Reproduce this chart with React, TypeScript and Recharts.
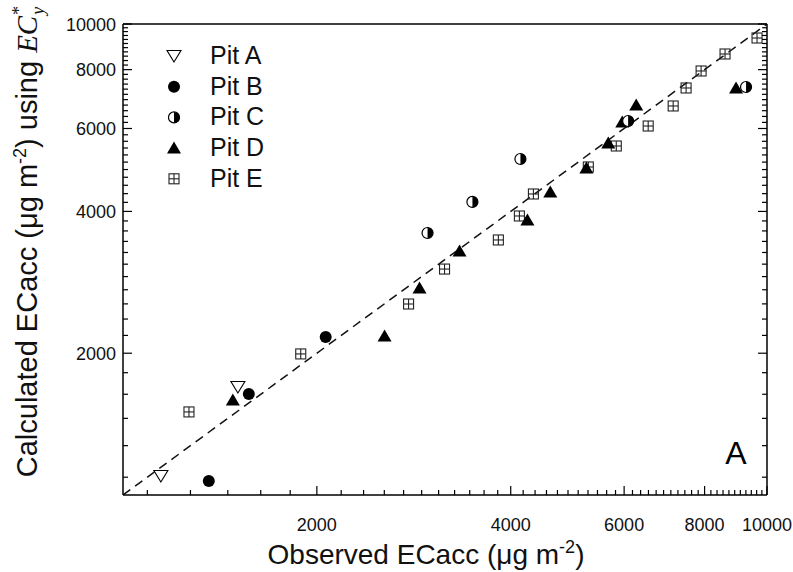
import React from "react";
import { ScatterChart, Scatter, XAxis, YAxis, ReferenceLine, Legend } from "recharts";

// observed (x) vs calculated (y) ECacc, µg m-2
const pitAObserved = [1145, 1508];
const pitACalculated = [1097, 1696];
const pitBObserved = [1359, 1568, 2064];
const pitBCalculated = [1071, 1638, 2165];
const pitCObserved = [2971, 3488, 4141, 6087, 9278];
const pitCCalculated = [3600, 4190, 5169, 6224, 7349];
const pitDObserved = [1481, 2548, 2887, 3331, 4246, 4608, 5242, 5669, 5960, 6265, 8952];
const pitDCalculated = [1591, 2176, 2751, 3296, 3836, 4399, 4947, 5589, 6193, 6730, 7314];
const pitEObserved = [1266, 1888, 2776, 3157, 3827, 4126, 4338, 5279, 5834, 6539, 7150, 7488, 7901, 8607, 9650];
const pitECalculated = [1501, 1993, 2544, 3018, 3479, 3912, 4356, 4971, 5508, 6073, 6698, 7314, 7948, 8636, 9339];

const pitNames = ["Pit A", "Pit B", "Pit C", "Pit D", "Pit E"];
const majorTicks = [2000, 4000, 6000, 8000, 10000];
const axisDomain = [1000, 10000];

// Origin style: 10 minor ticks between majors (step 2000/11)
const allTicks = Array.from({ length: 56 }, (_, i) => (i * 2000) / 11).filter(
  (v) => v >= 1000 && v <= 10000
);

const toPoints = (xs: number[], ys: number[]) => xs.map((x, i) => ({ x, y: ys[i] }));

const FONT = "'Liberation Sans', Arial, sans-serif";
const SERIF = "'Liberation Serif', 'DejaVu Serif', serif";
const isMajor = (v: number) => majorTicks.includes(v);

function DownTriangle({ cx, cy }: any) {
  return (
    <polygon
      points={`${cx - 7},${cy - 5.5} ${cx + 7},${cy - 5.5} ${cx},${cy + 6}`}
      fill="#fff"
      stroke="#000"
      strokeWidth={1.1}
    />
  );
}

function Dot({ cx, cy }: any) {
  return <circle cx={cx} cy={cy} r={6} fill="#000" />;
}

function HalfDot({ cx, cy }: any) {
  const r = 5.5;
  return (
    <g>
      <circle cx={cx} cy={cy} r={r} fill="#fff" stroke="#000" strokeWidth={1.2} />
      <path d={`M${cx},${cy - r} A${r},${r} 0 0 1 ${cx},${cy + r} Z`} fill="#000" />
    </g>
  );
}

function UpTriangle({ cx, cy }: any) {
  return (
    <polygon points={`${cx - 7},${cy + 5.5} ${cx + 7},${cy + 5.5} ${cx},${cy - 6.5}`} fill="#000" />
  );
}

function CrossSquare({ cx, cy }: any) {
  const h = 5;
  return (
    <g stroke="#222" strokeWidth={1.1} fill="none">
      <rect x={cx - h} y={cy - h} width={h * 2} height={h * 2} />
      <line x1={cx - h} x2={cx + h} y1={cy} y2={cy} />
      <line x1={cx} x2={cx} y1={cy - h} y2={cy + h} />
    </g>
  );
}

const symbols = [DownTriangle, Dot, HalfDot, UpTriangle, CrossSquare];

function BottomTick({ x, y, payload }: any) {
  const major = isMajor(payload.value);
  return (
    <g>
      <line x1={x} x2={x} y1={y} y2={y - (major ? 9 : 5)} stroke="#000" strokeWidth={1.2} />
      {major && (
        <text x={x} y={y + 36} textAnchor="middle" fontSize={18} fontFamily={FONT} fill="#111">
          {payload.value}
        </text>
      )}
    </g>
  );
}

function TopTick({ x, y, payload }: any) {
  const major = isMajor(payload.value);
  return <line x1={x} x2={x} y1={y} y2={y + (major ? 9 : 5)} stroke="#000" strokeWidth={1.2} />;
}

function LeftTick({ x, y, payload }: any) {
  const major = isMajor(payload.value);
  return (
    <g>
      <line x1={x} x2={x + (major ? 9 : 5)} y1={y} y2={y} stroke="#000" strokeWidth={1.2} />
      {major && (
        <text x={x - 7} y={y + 6.5} textAnchor="end" fontSize={18} fontFamily={FONT} fill="#111">
          {payload.value}
        </text>
      )}
    </g>
  );
}

function RightTick({ x, y, payload }: any) {
  const major = isMajor(payload.value);
  return <line x1={x} x2={x - (major ? 9 : 5)} y1={y} y2={y} stroke="#000" strokeWidth={1.2} />;
}

const renderXTitle = () => (
  <text x={426} y={564} textAnchor="middle" fontSize={28} fontFamily={FONT} fill="#111">
    Observed ECacc (μg m
    <tspan dy={-11} fontSize={18}>-2</tspan>
    <tspan dy={11}>)</tspan>
  </text>
);

const renderYTitle = () => (
  <text
    x={37}
    y={242}
    transform="rotate(-90, 37, 242)"
    textAnchor="middle"
    fontSize={29}
    fontFamily={FONT}
    fill="#111"
  >
    Calculated ECacc (μg m
    <tspan dy={-11} fontSize={18}>-2</tspan>
    <tspan dy={11}>) using </tspan>
    <tspan fontFamily={SERIF} fontStyle="italic">EC</tspan>
    <tspan fontFamily={SERIF} fontStyle="italic" fontSize={18} dy={-12}>*</tspan>
    <tspan fontFamily={SERIF} fontStyle="italic" fontSize={18} dx={-8} dy={19}>y</tspan>
  </text>
);

const renderPanelLetter = () => (
  <text x={736} y={464} textAnchor="middle" fontSize={32} fontFamily={FONT} fill="#000">
    A
  </text>
);

const renderLegend = () => (
  <svg width={150} height={165}>
    {pitNames.map((name, i) => {
      const Sym = symbols[i];
      const cy = 21 + i * 30.7;
      return (
        <g key={name}>
          <Sym cx={24} cy={cy} />
          <text x={60} y={cy + 8} fontSize={25} fontFamily={FONT} fill="#111">
            {name}
          </text>
        </g>
      );
    })}
  </svg>
);

const axisCommon = {
  type: "number" as const,
  scale: "log" as const,
  domain: axisDomain,
  allowDataOverflow: true,
  ticks: allTicks,
  interval: 0,
  tickSize: 0,
  tickMargin: 0,
  tickLine: false,
  axisLine: { stroke: "#000", strokeWidth: 1.5 },
};

export default function App() {
  const series = [
    { name: pitNames[4], data: toPoints(pitEObserved, pitECalculated), Sym: CrossSquare },
    { name: pitNames[0], data: toPoints(pitAObserved, pitACalculated), Sym: DownTriangle },
    { name: pitNames[1], data: toPoints(pitBObserved, pitBCalculated), Sym: Dot },
    { name: pitNames[3], data: toPoints(pitDObserved, pitDCalculated), Sym: UpTriangle },
    { name: pitNames[2], data: toPoints(pitCObserved, pitCCalculated), Sym: HalfDot },
  ];

  return (
    <div style={{ position: "absolute", left: 0, top: 0, background: "#fff" }}>
      <ScatterChart width={793} height={572} margin={{ top: 23, right: 25, bottom: 76, left: 122 }}>
        <XAxis {...axisCommon} dataKey="x" height={1} tick={BottomTick} label={renderXTitle} />
        <XAxis {...axisCommon} xAxisId="top" orientation="top" height={1} tick={TopTick} />
        <YAxis {...axisCommon} dataKey="y" width={1} tick={LeftTick} label={renderYTitle} />
        <YAxis
          {...axisCommon}
          yAxisId="right"
          orientation="right"
          width={1}
          tick={RightTick}
          label={renderPanelLetter}
        />
        <ReferenceLine
          segment={[
            { x: 1000, y: 1000 },
            { x: 10000, y: 10000 },
          ]}
          stroke="#111"
          strokeWidth={1.5}
          strokeDasharray="9 6"
          ifOverflow="hidden"
        />
        {series.map((s) => (
          <Scatter
            key={s.name}
            name={s.name}
            data={s.data}
            isAnimationActive={false}
            shape={(p: any) => <s.Sym cx={p.cx} cy={p.cy} />}
          />
        ))}
        <Legend
          layout="vertical"
          align="center"
          verticalAlign="middle"
          content={renderLegend}
          wrapperStyle={{ left: 150, top: 35, width: 150 }}
        />
      </ScatterChart>
    </div>
  );
}
